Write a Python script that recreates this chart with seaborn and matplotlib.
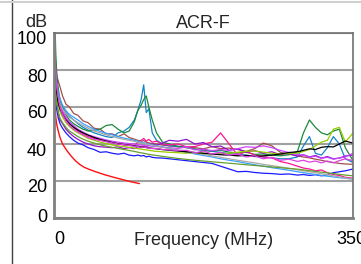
import pandas as pd
import matplotlib
matplotlib.use("Agg")
import matplotlib.pyplot as plt
import matplotlib.transforms as mtransforms
from matplotlib.lines import Line2D
import seaborn as sns

# -------------------------
# Data
# -------------------------
FREQ = [1, 2, 3, 5, 7, 10, 14, 18, 23, 28,
        34, 40, 47, 54, 61, 68, 75, 82, 88, 94,
        98, 102, 105, 108, 111, 115, 120, 127, 135, 145,
        155, 165, 175, 185, 195, 205, 215, 225, 235, 245,
        255, 265, 275, 285, 292, 299, 306, 313, 320, 327,
        334, 341, 350]

BROWN = [90, 82, 77, 74, 71, 66, 61.5, 60, 56.5, 55.5,
         52.5, 51.5, 48.5, 48, 45.5, 45.5, 44, 45.5, 43.5, 42.6,
         42, 41.5, 41.8, 41, 40.6, 40.2, 40, 39.4, 39, 38.5,
         38.2, 38, 37.4, 38.6, 37.5, 37.8, 37, 36, 37.5, 40.5,
         39, 35.5, 34.5, 33.5, 33, 32.5, 31.8, 31.2, 30.5, 30,
         29.5, 29.2, 29]
TEAL = [86, 78, 72, 67, 63, 60, 57, 55, 53, 51,
        49, 47.5, 46, 45, 44, 43.5, 46, 47, 49, 53,
        58, 64, 72, 57, 59, 46, 42, 40, 39, 38.8,
        38.2, 37.2, 36.5, 36, 35.5, 34.8, 34.5, 34, 33.2, 33,
        32.5, 32, 32, 33, 39, 44, 35, 34, 38, 44,
        40, 32, 30]
DARK_GREEN = [108, 90, 80, 70, 64, 60, 56, 53, 51, 49.5,
              48, 47, 47.5, 48, 50, 50.5, 48, 46, 47, 52,
              58, 61, 64, 66, 60, 53, 46, 41, 40, 38.6,
              38, 37.2, 36.8, 36.2, 36.6, 35.6, 35.2, 35.5, 34.4, 34.6,
              34, 33.6, 34.2, 36, 46, 53, 49, 46, 45, 47,
              48, 38, 31]
DEEP_PINK = [92, 80, 73, 66, 61, 57, 53.5, 51, 49, 47,
             45.5, 44, 43, 42, 41.5, 41, 40, 39.5, 39.6, 39,
             41, 42, 43, 41.5, 42.5, 41, 41.5, 40, 39.5, 40,
             38.5, 38.6, 40, 41, 46, 40, 34, 36, 34, 33,
             32.5, 30.5, 29.5, 28, 27, 26.5, 25.5, 26, 24.5, 23.5,
             23, 22, 21.5]
PURPLE = [76, 68, 63, 57, 53, 51, 48, 46, 44, 42.5,
          41, 40, 39, 38.5, 38.3, 38, 38.5, 37.5, 38, 37.5,
          38.5, 38, 39, 38.2, 39.5, 40, 39.2, 40.5, 42, 41.5,
          42.5, 40, 40.8, 38.5, 38.9, 36.6, 37.4, 35.6, 36.4, 35,
          35.8, 34.2, 35, 33.4, 34.2, 33, 33.8, 32.4, 33.2, 32,
          32.4, 33.5, 34]
VIOLET = [84, 76, 71, 65, 61, 58, 54.5, 52, 50, 48,
          46.5, 45, 44, 43, 42.2, 41.5, 41, 40.5, 40.2, 40,
          39.6, 39.5, 39.2, 39.4, 39, 38.8, 38.6, 38.4, 38, 37.6,
          38.4, 36.8, 37.2, 36.4, 37, 36.5, 37.5, 38.5, 38.2, 39,
          38, 36.5, 35.4, 34.2, 34, 32.8, 33.4, 32.2, 32.8, 31.8,
          32.4, 33, 35]
BLUE = [72, 64, 59, 54, 51, 48.5, 46, 44, 42, 40.5,
        39.5, 38, 37, 35.5, 35.8, 35, 34.5, 35, 34, 33.6,
        34, 33.5, 33.8, 33, 33.4, 32.8, 32.5, 32.4, 32, 31.5,
        31, 30.5, 30, 29.5, 28, 26.5, 25, 25.2, 24.6, 24.2,
        24, 23.6, 23.8, 23.2, 23.5, 23, 23.4, 22.8, 23.4, 24.5,
        25, 25.5, 26.5]
LIGHT_BLUE = [85, 78, 73, 68, 64.5, 61, 58, 56, 54.5, 53,
              51, 49.5, 48, 46.8, 45.8, 45, 44, 43.2, 42.6, 42,
              41.5, 41, 40.6, 40.3, 40, 39.6, 39, 38.4, 37.6, 36.6,
              35.6, 34.6, 33.8, 33, 32, 31.2, 30.5, 29.6, 28.8, 28,
              27.2, 26.5, 25.8, 25, 24.5, 24, 23.5, 23, 22.6, 22.2,
              21.8, 21.5, 21]
GRAY = [82, 75, 70, 65, 62, 59, 56.5, 54.5, 53, 51.5,
        50, 48.5, 47, 46, 45, 44, 43.2, 42.5, 42, 41.4,
        41, 40.6, 40.3, 40, 39.7, 39.3, 38.8, 38.2, 37.5, 36.8,
        36, 35.2, 34.4, 33.6, 32.8, 32, 31.2, 30.5, 29.8, 29,
        28.3, 27.6, 26.8, 26, 25.5, 25, 24.5, 24, 23.4, 22.8,
        22.2, 21.6, 21]
YELLOW_GREEN = [78, 71, 66, 61, 57.5, 54.5, 51.5, 49.5, 47.5, 46,
                44.5, 43, 42, 41, 40.2, 39.5, 39, 38.6, 38.2, 37.8,
                37.5, 37.2, 37, 36.8, 36.6, 36.3, 36, 35.8, 35.5, 35.3,
                35, 35.4, 35, 34.6, 34.8, 35, 35.6, 36, 36.2, 35.6,
                35, 34.5, 35, 35, 36, 37, 39, 41, 42, 48,
                49, 41, 46]
BLACK = [80, 72, 67, 62, 59, 56, 53, 51, 49, 47.5,
         46, 44.8, 43.5, 42.5, 41.6, 40.8, 40.2, 39.7, 39.3, 39,
         38.8, 38.5, 38.3, 38.1, 37.9, 37.7, 37.4, 37, 36.6, 36.2,
         35.8, 35.4, 35, 34.6, 34.2, 34, 33.6, 33.8, 33.4, 33.6,
         34, 34.6, 35.4, 35.8, 36.6, 37.4, 37, 38.2, 38.6, 38.4,
         40, 41.6, 40.5]
OLIVE = [74, 67, 62, 57, 54, 51.5, 49, 47, 45.5, 44,
         42.6, 41.5, 40.5, 39.6, 38.8, 38.2, 37.6, 37, 36.5, 36,
         35.6, 35.2, 35, 34.7, 34.4, 34.1, 33.8, 33.3, 32.8, 32.2,
         31.7, 31.2, 30.8, 30.4, 30, 29.6, 29.2, 28.8, 28.4, 28,
         27.6, 27.2, 26.8, 26.4, 26, 25.6, 25.2, 24.8, 24.4, 24,
         23.6, 23.2, 22.8]
MAGENTA = [88, 79, 72, 65, 60, 56, 52.5, 50, 48, 46.5,
           45, 43.5, 42.5, 42, 41.2, 40.6, 40, 39.6, 39.2, 38.8,
           38.6, 38.2, 38.4, 38, 37.8, 37.5, 37.6, 37, 36.8, 36.5,
           36.6, 35.2, 36.2, 34.6, 35.4, 34, 34.6, 33, 33.6, 32,
           32.8, 31.2, 31.8, 30.6, 31.2, 30.2, 30.8, 29.8, 30.8, 29.8,
           31, 32, 31]

# limit line
LIMIT_FREQ = [1, 2, 3, 4, 5, 7, 10, 15, 20, 25, 30, 35, 40, 50, 60, 70, 80, 90, 100]
LIMIT_DB = [62, 55, 51, 49, 47, 43.5, 40, 36.5, 33.5, 31, 29, 27.5, 26.5,
            24.8, 23.3, 22, 20.8, 19.6, 18.6]

Y_TICKS = [0, 20, 40, 60, 80, 100]
X_TICKS = [0, 350]
TITLE = "ACR-F"
UNIT = "dB"
X_LABEL = "Frequency (MHz)"

CURVES = {
    "brown": BROWN, "teal": TEAL, "dark_green": DARK_GREEN,
    "deep_pink": DEEP_PINK, "purple": PURPLE, "violet": VIOLET,
    "blue": BLUE, "light_blue": LIGHT_BLUE, "gray": GRAY,
    "yellow_green": YELLOW_GREEN, "black": BLACK, "olive": OLIVE,
    "magenta": MAGENTA,
}
COLOURS = {
    "brown": "#a0504a", "teal": "#1284c4", "dark_green": "#1b8a3a",
    "deep_pink": "#ff1493", "purple": "#9410d0", "violet": "#cc44ff",
    "blue": "#1a1aff", "light_blue": "#3aa0ff", "gray": "#a8a8a8",
    "yellow_green": "#99cc00", "black": "#000000", "olive": "#66a030",
    "magenta": "#e040e0",
}

# -------------------------
# Plot
# -------------------------
sns.set_style("white")
plt.rcParams["font.family"] = ["Liberation Sans", "DejaVu Sans"]

rows = []
for name, vals in CURVES.items():
    for f, v in zip(FREQ, vals):
        rows.append({"pair": name, "freq": f, "db": v})
df = pd.DataFrame(rows)

fig = plt.figure(figsize=(3.61, 2.64), dpi=100)
ax = fig.add_axes([54 / 361, 1 - 218 / 264, 299 / 361, 185 / 264])

sns.lineplot(data=df, x="freq", y="db", hue="pair", palette=COLOURS,
             estimator=None, sort=False, legend=False, lw=0.9, ax=ax)
sns.lineplot(x=LIMIT_FREQ, y=LIMIT_DB, color="#ff1010", lw=1.0, ax=ax)

ax.set_xlim(0, 350)
ax.set_ylim(0, 100)
ax.set_yticks(Y_TICKS)
ax.set_xticks(X_TICKS)
ax.set_xticklabels([str(t) for t in X_TICKS])
ax.grid(axis="y", color="#a0a0a0", lw=1.5)
ax.set_axisbelow(True)
ax.tick_params(axis="both", length=0, labelsize=13, colors="#000000")
ax.tick_params(axis="y", pad=5)
ax.tick_params(axis="x", pad=9)

for side in ["left", "bottom"]:
    ax.spines[side].set_color("#808080")
    ax.spines[side].set_linewidth(2)
for side in ["top", "right"]:
    ax.spines[side].set_color("#707070")
    ax.spines[side].set_linewidth(1.2)

# Excel-style label placement: labels sit a little below their gridlines,
# except the bottom one which is nudged up
ylabs = ax.get_yticklabels()
for i, lab in enumerate(ylabs):
    dy = 0.02 if i == 0 else -0.05
    lab.set_transform(lab.get_transform()
                      + mtransforms.ScaledTranslation(0, dy, fig.dpi_scale_trans))
xlabs = ax.get_xticklabels()
xlabs[0].set_transform(xlabs[0].get_transform()
                       + mtransforms.ScaledTranslation(0.05, 0, fig.dpi_scale_trans))
xlabs[1].set_transform(xlabs[1].get_transform()
                       + mtransforms.ScaledTranslation(-0.02, 0, fig.dpi_scale_trans))

ax.set_xlabel(X_LABEL, fontsize=13)
ax.xaxis.label.set_va("baseline")
ax.xaxis.set_label_coords(0.5, -0.146)
ax.set_ylabel("")
ax.set_title(TITLE, fontsize=13, pad=3.5)
fig.text(36 / 361, 1 - 27 / 264, UNIT, fontsize=13, ha="center", va="baseline")

# outer frame of the original graphic
fig.add_artist(Line2D([11.5 / 361, 11.5 / 361], [0, 1], color="#404040", lw=1))
fig.add_artist(Line2D([0, 1], [1 - 1.5 / 264, 1 - 1.5 / 264], color="#d0d0d0", lw=1.5))

fig.savefig("out.png", dpi=100)
plt.close(fig)
